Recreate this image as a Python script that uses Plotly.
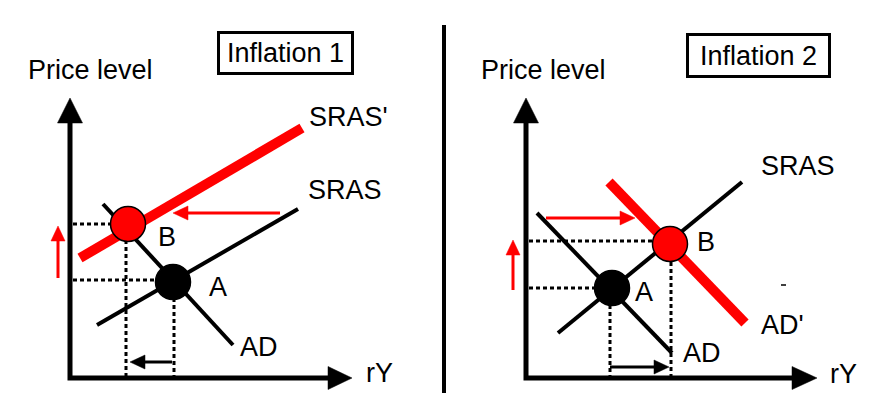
import plotly.graph_objects as go

W, H = 883, 412
FONT = "Liberation Sans, Arial, sans-serif"
FS = 27

# ---------------- Panel 1: Inflation 1 ----------------
p1_axes_x = [70, 70, 330]
p1_axes_y = [123, 378, 378]
p1_yhead = dict(tip=(70, 98), base=123, half=12.5)      # vertical arrowhead
p1_xhead = dict(tip=(352, 378), base=328, half=11.5)    # horizontal arrowhead

p1_sras_new_x = [80, 302]
p1_sras_new_y = [258, 128]
p1_sras_x = [97, 298]
p1_sras_y = [325, 209]
p1_ad_x = [103, 233]
p1_ad_y = [204, 345]

p1_pointA = (173, 282)
p1_pointB = (128, 224)

p1_dots = [  # (x0, y0, x1, y1)
    (73, 224, 112, 224),
    (73, 280, 157, 280),
    (126, 240, 126, 378),
    (174, 298, 174, 378),
]
p1_arrows = [  # (x0, y0, x1(tip), y1(tip), color)
    (58, 278, 58, 226, "red"),
    (280, 213, 173, 213, "red"),
    (172, 362, 130, 362, "black"),
]
p1_labels = [  # (text, x, y)
    ("Price level", 26, 70),
    ("SRAS'", 307, 117),
    ("SRAS", 306, 190),
    ("B", 156, 237),
    ("A", 207, 287),
    ("AD", 238, 347),
    ("rY", 364, 373),
]
p1_title = ("Inflation 1", 285, 52.5, 131, 38)

# ---------------- Panel 2: Inflation 2 ----------------
divider_x = [444, 444]
divider_y = [25, 393]

p2_axes_x = [526, 526, 794]
p2_axes_y = [123, 378, 378]
p2_yhead = dict(tip=(526, 98), base=123, half=12.5)
p2_xhead = dict(tip=(817, 378), base=792, half=11.5)

p2_sras_x = [558, 742]
p2_sras_y = [333, 182]
p2_ad_x = [537, 672]
p2_ad_y = [213, 353]
p2_ad_new_x = [609, 745]
p2_ad_new_y = [182, 323]

p2_pointA = (612, 288)
p2_pointB = (670, 244)

p2_dots = [
    (529, 241, 652, 241),
    (529, 288, 595, 288),
    (610, 305, 610, 378),
    (671, 262, 671, 378),
]
p2_arrows = [
    (513, 290, 513, 240, "red"),
    (546, 218, 635, 218, "red"),
    (610, 367, 669, 367, "black"),
]
p2_labels = [
    ("Price level", 479, 70),
    ("SRAS", 759, 166),
    ("B", 695, 242),
    ("A", 633, 292),
    ("AD'", 759, 325),
    ("AD", 681, 353),
    ("rY", 828, 374),
]
p2_title = ("Inflation 2", 758, 55, 139, 39)
p2_speck_x = [781, 786]
p2_speck_y = [285, 285]

fig = go.Figure()


def line(xs, ys, color="black", width=4, dash=None):
    fig.add_trace(go.Scatter(x=xs, y=ys, mode="lines",
                             line=dict(color=color, width=width, dash=dash),
                             hoverinfo="skip", showlegend=False))


def tri(xs, ys, color="black"):
    fig.add_trace(go.Scatter(x=xs + [xs[0]], y=ys + [ys[0]], mode="lines",
                             fill="toself", fillcolor=color,
                             line=dict(color=color, width=0.5),
                             hoverinfo="skip", showlegend=False))


def vhead(h):
    tx, ty = h["tip"]
    tri([tx, tx - h["half"], tx + h["half"]], [ty, h["base"], h["base"]])


def hhead(h):
    tx, ty = h["tip"]
    tri([tx, h["base"], h["base"]], [ty, ty - h["half"], ty + h["half"]])


def arrow(x0, y0, x1, y1, color, hl=15, hw=7, lw=3):
    # shaft up to the base of the head, then a triangular head
    if x0 == x1:
        s = 1 if y1 > y0 else -1
        line([x0, x1], [y0, y1 - s * hl], color, lw)
        tri([x1, x1 - hw, x1 + hw], [y1, y1 - s * hl, y1 - s * hl], color)
    else:
        s = 1 if x1 > x0 else -1
        line([x0, x1 - s * hl], [y0, y1], color, lw)
        tri([x1, x1 - s * hl, x1 - s * hl], [y1, y1 - hw, y1 + hw], color)


def point(p, color):
    fig.add_trace(go.Scatter(x=[p[0]], y=[p[1]], mode="markers",
                             marker=dict(size=35, color=color,
                                         line=dict(color="black", width=1.5)),
                             hoverinfo="skip", showlegend=False))


def label(t, x, y):
    fig.add_annotation(x=x, y=y, text=t, showarrow=False, xanchor="left",
                       yanchor="middle", font=dict(family=FONT, size=FS, color="black"))


def title(t, x, y, w, h):
    fig.add_annotation(x=x, y=y, text=t, showarrow=False, xanchor="center",
                       yanchor="middle", width=w, height=h, borderpad=0,
                       bordercolor="black", borderwidth=3,
                       font=dict(family=FONT, size=FS, color="black"))


# Panel 1
for (x0, y0, x1, y1) in p1_dots:
    line([x0, x1], [y0, y1], "black", 3, "4px,3px")
line(p1_axes_x, p1_axes_y, "black", 5)
vhead(p1_yhead)
hhead(p1_xhead)
line(p1_sras_x, p1_sras_y, "black", 4)
line(p1_ad_x, p1_ad_y, "black", 4)
line(p1_sras_new_x, p1_sras_new_y, "red", 10)
for a in p1_arrows:
    arrow(*a)
point(p1_pointA, "black")
point(p1_pointB, "red")
for lab in p1_labels:
    label(*lab)
title(*p1_title)

# Divider
line(divider_x, divider_y, "black", 4)

# Panel 2
for (x0, y0, x1, y1) in p2_dots:
    line([x0, x1], [y0, y1], "black", 3, "4px,3px")
line(p2_axes_x, p2_axes_y, "black", 5)
vhead(p2_yhead)
hhead(p2_xhead)
line(p2_sras_x, p2_sras_y, "black", 4)
line(p2_ad_x, p2_ad_y, "black", 4)
line(p2_ad_new_x, p2_ad_new_y, "red", 10)
for a in p2_arrows:
    arrow(*a)
point(p2_pointA, "black")
point(p2_pointB, "red")
for lab in p2_labels:
    label(*lab)
title(*p2_title)
line(p2_speck_x, p2_speck_y, "black", 1.5)

fig.update_layout(
    width=W, height=H, margin=dict(l=0, r=0, t=0, b=0),
    paper_bgcolor="white", plot_bgcolor="white",
    xaxis=dict(range=[0, W], visible=False, fixedrange=True),
    yaxis=dict(range=[H, 0], visible=False, fixedrange=True),
)

fig.write_html("out.html", config={"displayModeBar": False},
               post_script="document.body.style.margin='0';document.body.style.overflow='hidden';")
